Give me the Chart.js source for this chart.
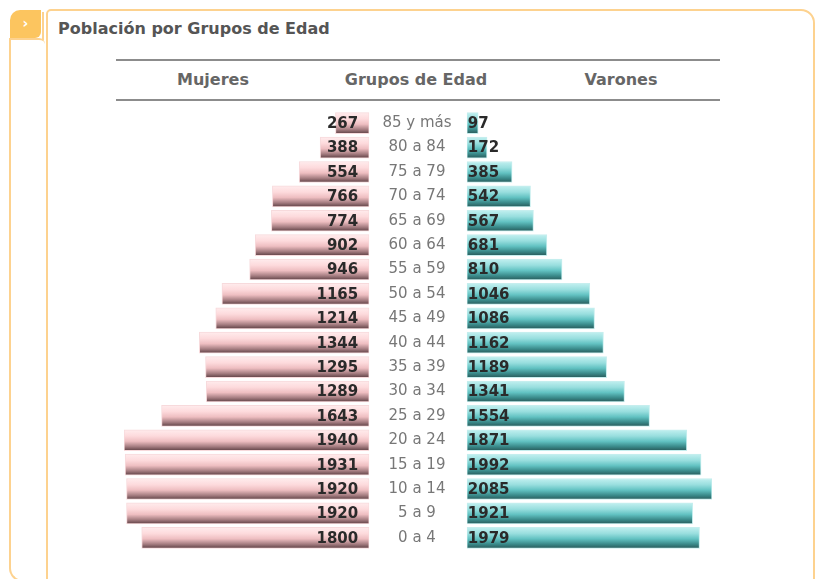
<!DOCTYPE html>
<html>
<head>
<meta charset="utf-8">
<script src="https://cdn.jsdelivr.net/npm/chart.js@4.4.1/dist/chart.umd.min.js"></script>
<style>
  html, body { margin: 0; padding: 0; background: #fff; }
  body { width: 815px; height: 579px; position: relative; overflow: hidden; font-family: "DejaVu Sans", Verdana, sans-serif; }
  .tab { position: absolute; left: 10px; top: 10px; width: 31px; height: 28px; background: #fcc55f; border-radius: 10px 0 6px 0; color: #fff; font-weight: bold; font-size: 14px; text-align: center; line-height: 27px; }
  .rimL { position: absolute; left: 9px; top: 38px; width: 34px; height: 540px; border-left: 2px solid #fdd28f; border-top: 2px solid #fdd28f; border-bottom: 2px solid #fdd28f; border-top-right-radius: 6px; border-bottom-left-radius: 14px; }
  .rimR { position: absolute; left: 42px; top: 12px; width: 2px; height: 28px; background: #fdd28f; }
  .frame { position: absolute; left: 46px; top: 9px; width: 765px; height: 580px; border: 2px solid #fdd28f; border-radius: 5px 14px 0 10px; }
  .title { position: absolute; left: 58px; top: 19px; font-size: 16px; font-weight: bold; color: #555; white-space: nowrap; }
  .hline { position: absolute; left: 116px; width: 604px; height: 2px; background: #8c8c8c; }
  .head { position: absolute; top: 70px; font-size: 16px; font-weight: bold; color: #666; transform: translateX(-50%); white-space: nowrap; }
  #wrap { position: absolute; left: 0; top: 0; width: 815px; height: 579px; }
</style>
</head>
<body>
<div class="frame"></div>
<div class="rimL"></div>
<div class="rimR"></div>
<div class="tab">›</div>
<div class="title">Población por Grupos de Edad</div>
<div class="hline" style="top:59px"></div>
<div class="hline" style="top:99px"></div>
<div class="head" style="left:213px">Mujeres</div>
<div class="head" style="left:416px">Grupos de Edad</div>
<div class="head" style="left:621px">Varones</div>
<div id="wrap"><canvas id="chart"></canvas></div>
<script>
const AGE_GROUPS = ["85 y más", "80 a 84", "75 a 79", "70 a 74", "65 a 69", "60 a 64",
  "55 a 59", "50 a 54", "45 a 49", "40 a 44", "35 a 39", "30 a 34", "25 a 29",
  "20 a 24", "15 a 19", "10 a 14", "5 a 9", "0 a 4"];
const WOMEN = [267, 388, 554, 766, 774, 902, 946, 1165, 1214, 1344, 1295, 1289, 1643,
  1940, 1931, 1920, 1920, 1800];
const MEN = [97, 172, 385, 542, 567, 681, 810, 1046, 1086, 1162, 1189, 1341, 1554,
  1871, 1992, 2085, 1921, 1979];

const PINK = ["#ffeced", "#fddadc", "#eebec1", "#a57d81", "#5e4044"];
const TEAL = ["#c2f0f0", "#98dede", "#62c2c2", "#3a8a8a", "#285a5a"];
const BAR_H = 21;

// vertical gradient per bar, placed from the category scale
function barGradient(stops) {
  return function (ctx) {
    const chart = ctx.chart;
    const y = chart.scales.y;
    if (!y || ctx.dataIndex === undefined) return stops[2];
    const yc = y.getPixelForValue(ctx.dataIndex);
    if (!isFinite(yc)) return stops[2];
    const g = chart.ctx.createLinearGradient(0, yc - BAR_H / 2, 0, yc + BAR_H / 2);
    g.addColorStop(0, stops[0]);
    g.addColorStop(0.3, stops[1]);
    g.addColorStop(0.55, stops[2]);
    g.addColorStop(0.8, stops[3]);
    g.addColorStop(1, stops[4]);
    return g;
  };
}

const labelsPlugin = {
  id: "pyramidLabels",
  afterDatasetsDraw(chart) {
    const c = chart.ctx;
    const gap = chart.scales.xGap;
    const mid = (gap.left + gap.right) / 2 - 1;
    c.save();
    c.textBaseline = "middle";
    c.font = "15px 'DejaVu Sans'";
    c.fillStyle = "#777";
    c.textAlign = "center";
    chart.getDatasetMeta(0).data.forEach((bar, i) => {
      c.fillText(AGE_GROUPS[i], mid, bar.y);
    });
    c.font = "bold 15px 'DejaVu Sans'";
    c.fillStyle = "#2a2a2a";
    c.textAlign = "right";
    chart.getDatasetMeta(0).data.forEach((bar, i) => {
      c.fillText(String(WOMEN[i]), bar.base - 11, bar.y + 1);
    });
    c.textAlign = "left";
    chart.getDatasetMeta(1).data.forEach((bar, i) => {
      c.fillText(String(MEN[i]), bar.base + 1, bar.y + 1);
    });
    c.restore();
  }
};

new Chart(document.getElementById("chart"), {
  type: "bar",
  data: {
    labels: AGE_GROUPS,
    datasets: [
      {
        label: "Mujeres",
        data: WOMEN,
        xAxisID: "xW",
        backgroundColor: barGradient(PINK),
        borderColor: "#f7dadc",
        borderWidth: 1,
        borderSkipped: false,
        barThickness: BAR_H,
        grouped: false
      },
      {
        label: "Varones",
        data: MEN,
        xAxisID: "xM",
        backgroundColor: barGradient(TEAL),
        borderColor: "#c6eeee",
        borderWidth: 1,
        borderSkipped: false,
        barThickness: BAR_H,
        grouped: false
      }
    ]
  },
  options: {
    indexAxis: "y",
    responsive: true,
    maintainAspectRatio: false,
    animation: false,
    events: [],
    layout: { padding: { left: 124, right: 103, top: 111, bottom: 29 } },
    plugins: {
      legend: { display: false },
      tooltip: { enabled: false }
    },
    scales: {
      y: { display: false, offset: true },
      xW: { type: "linear", position: "bottom", stack: "x", stackWeight: 245, reverse: true,
        min: 0, max: Math.max(...WOMEN), display: false },
      xGap: { type: "linear", position: "bottom", stack: "x", stackWeight: 97.5, display: false },
      xM: { type: "linear", position: "bottom", stack: "x", stackWeight: 245,
        min: 0, max: Math.max(...MEN), display: false }
    }
  },
  plugins: [labelsPlugin]
});
</script>
</body>
</html>
